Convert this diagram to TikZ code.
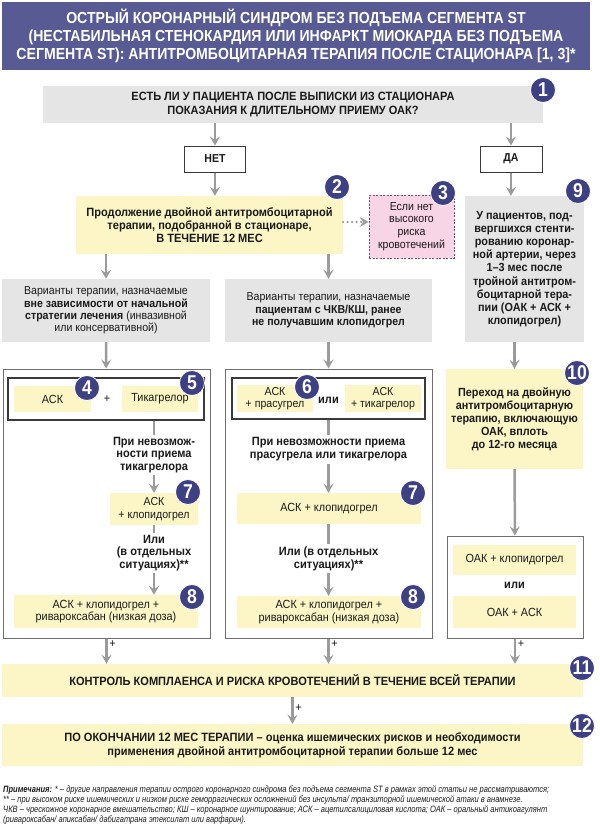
\documentclass[tikz,border=0pt]{standalone}
\usepackage{fontspec}
\setmainfont{Liberation Sans}[FakeStretch=0.92]
\newfontfamily\headfont{Liberation Sans}[FakeStretch=0.88]
\newfontfamily\notefont{Liberation Sans}[FakeStretch=0.82]
\usetikzlibrary{arrows.meta,positioning}
\definecolor{ink}{HTML}{1A1A1A}
\definecolor{band}{HTML}{585A93}
\definecolor{badge}{HTML}{3E4084}
\definecolor{pale}{HTML}{E5E5E5}
\definecolor{straw}{HTML}{FCF5C6}
\definecolor{rose}{HTML}{F7D4E6}
\definecolor{plum}{HTML}{7B4A6E}
\definecolor{arr}{HTML}{9B9B9B}
\definecolor{frame}{HTML}{6E6E6E}
\definecolor{edge}{HTML}{3A3A3A}

\begin{document}
\begin{tikzpicture}[x=1pt,y=-1pt,text=ink,font=\fontsize{11.8}{13}\selectfont,
      n/.style={fill=pale,align=center,inner sep=0pt},
      yl/.style={fill=straw,align=center,inner sep=0pt},
      bx/.style={fill=white,draw=frame,line width=1pt,inner sep=0pt},
      pair/.style={fill=white,draw=edge,line width=1.2pt,inner sep=0pt},
      tag/.style={fill=white,draw=edge,line width=1pt,inner sep=0pt,
                  font=\fontsize{11.5}{12}\selectfont\bfseries},
      hint/.style={align=center,inner sep=2pt,font=\fontsize{12}{12.5}\selectfont\bfseries},
      num/.style={circle,fill=badge,draw=white,line width=0.8pt,minimum size=25pt,
                  inner sep=0pt,text=white,font=\headfont\bfseries\fontsize{20}{20}\selectfont},
      flow/.style={draw=arr,line width=2.5pt,-{Stealth[length=9pt,width=10pt,inset=3.5pt]}},
      seg/.style={draw=arr,line width=2.5pt}]
    \useasboundingbox (0,0) rectangle (600,836);
    \node[fill=band,minimum width=588pt,minimum height=68pt,inner sep=0pt,align=center,
          text=white,font=\headfont\bfseries\fontsize{16}{18}\selectfont] (head) at (296,36)
      {ОСТРЫЙ КОРОНАРНЫЙ СИНДРОМ БЕЗ ПОДЪЕМА СЕГМЕНТА ST\\
       (НЕСТАБИЛЬНАЯ СТЕНОКАРДИЯ ИЛИ ИНФАРКТ МИОКАРДА БЕЗ ПОДЪЕМА\\
       СЕГМЕНТА ST): АНТИТРОМБОЦИТАРНАЯ ТЕРАПИЯ ПОСЛЕ СТАЦИОНАРА [1, 3]*};
    \node[n,minimum width=500pt,minimum height=37pt,font=\fontsize{12}{14}\selectfont\bfseries]
      (ask) at (293,104.5) {ЕСТЬ ЛИ У ПАЦИЕНТА ПОСЛЕ ВЫПИСКИ ИЗ СТАЦИОНАРА\\
       ПОКАЗАНИЯ К ДЛИТЕЛЬНОМУ ПРИЕМУ ОАК?};
    \node[tag,minimum width=61pt,minimum height=26pt] (no) at (215,159) {НЕТ};
    \node[tag,minimum width=62pt,minimum height=26pt] (yes) at (511,159) {ДА};
    \node[yl,minimum width=267pt,minimum height=58pt,font=\fontsize{12}{12.8}\selectfont\bfseries]
      (dapt) at (209.5,225) {Продолжение двойной антитромбоцитарной\\
       терапии, подобранной в стационаре,\\В ТЕЧЕНИЕ 12 МЕС};
    \node[fill=rose,draw=plum,line width=0.8pt,dash pattern=on 2pt off 1.5pt,align=center,
          inner sep=0pt,minimum width=85pt,minimum height=63pt,font=\fontsize{11.5}{12.8}\selectfont]
      (bleed) at (411.5,226.5) {Если нет\\высокого\\риска\\кровотечений};
    \node[n,minimum width=119pt,minimum height=146pt,font=\fontsize{11.8}{13.2}\selectfont\bfseries]
      (stent) at (524.5,269) {У пациентов, под-\\вергшихся стенти-\\рованию коронар-\\
       ной артерии, через\\1–3 мес после\\тройной антитром-\\боцитарной тера-\\
       пии (ОАК + АСК +\\клопидогрел)};
    \node[n,minimum width=208pt,minimum height=63pt,font=\fontsize{11.5}{12.4}\selectfont]
      (varA) at (106,310.5) {Варианты терапии, назначаемые\\
       \textbf{вне зависимости от начальной}\\\textbf{стратегии лечения} (инвазивной\\
       или консервативной)};
    \node[n,minimum width=207pt,minimum height=63pt,font=\fontsize{11.5}{12.4}\selectfont]
      (varB) at (328.5,310.5) {Варианты терапии, назначаемые\\
       \textbf{пациентам с ЧКВ/КШ, ранее}\\\textbf{не получавшим клопидогрел}};
    \node[bx,minimum width=207pt,minimum height=269pt] (outA) at (106.5,503.5) {};
    \node[bx,minimum width=207pt,minimum height=269pt] (outB) at (328.5,503.5) {};
    \node[yl,minimum width=137pt,minimum height=100pt,font=\fontsize{11.8}{13}\selectfont\bfseries]
      (shift) at (514.5,419) {Переход на двойную\\антитромбоцитарную\\терапию, включающую\\
       ОАК, вплоть\\до 12-го месяца};
    \node[bx,minimum width=136pt,minimum height=102pt] (outC) at (515,587) {};
    % left column
    \node[pair,minimum width=196pt,minimum height=42pt] (pairA) at (106,399) {};
    \node[yl,minimum width=77pt,minimum height=26pt] (askA) at (52.5,399) {АСК};
    \node (plusA) at (107,399) {+};
    \node[yl,minimum width=76pt,minimum height=26pt] (tikA) at (160,399) {Тикагрелор};
    \node[hint] (ifA) at (154,455) {При невозмож-\\ности приема\\тикагрелора};
    \node[yl,minimum width=88pt,minimum height=32pt,font=\fontsize{11.5}{12.5}\selectfont]
      (cloA) at (154,509) {АСК\\+ клопидогрел};
    \node[hint] (orA) at (154,553) {Или\\(в отдельных\\ситуациях)**};
    \node[yl,minimum width=184pt,minimum height=33pt,font=\fontsize{11.8}{12.8}\selectfont]
      (rivA) at (106,611.5) {АСК + клопидогрел +\\ривароксабан (низкая доза)};
    % middle column
    \node[pair,minimum width=193pt,minimum height=41pt] (pairB) at (328.5,398.5) {};
    \node[yl,minimum width=76pt,minimum height=27pt,font=\fontsize{11.5}{12.5}\selectfont]
      (prasB) at (275,398.5) {АСК\\+ прасугрел};
    \node[font=\fontsize{12}{12}\selectfont\bfseries] (orB0) at (328.5,400) {или};
    \node[yl,minimum width=76pt,minimum height=27pt,font=\fontsize{11.5}{12.5}\selectfont]
      (tikB) at (383,398.5) {АСК\\+ тикагрелор};
    \node[hint,font=\fontsize{12}{13}\selectfont\bfseries] (ifB) at (328.5,449.5)
      {При невозможности приема\\прасугрела или тикагрелора};
    \node[yl,minimum width=184pt,minimum height=31pt] (cloB) at (329,508.5) {АСК + клопидогрел};
    \node[hint,font=\fontsize{12}{13}\selectfont\bfseries] (orB) at (328.5,558.5)
      {Или (в отдельных\\ситуациях)**};
    \node[yl,minimum width=184pt,minimum height=32pt,font=\fontsize{11.8}{12.8}\selectfont]
      (rivB) at (329,612) {АСК + клопидогрел +\\ривароксабан (низкая доза)};
    % right column
    \node[yl,minimum width=123pt,minimum height=30pt] (oakK) at (514.5,560) {ОАК + клопидогрел};
    \node[font=\fontsize{12}{12}\selectfont\bfseries] (orC) at (514.5,585.5) {или};
    \node[yl,minimum width=123pt,minimum height=32pt] (oakA) at (514.5,612) {ОАК + АСК};
    % bottom
    \node[yl,minimum width=581pt,minimum height=33pt,font=\fontsize{12}{13}\selectfont\bfseries]
      (watch) at (292.5,680.5) {КОНТРОЛЬ КОМПЛАЕНСА И РИСКА КРОВОТЕЧЕНИЙ В ТЕЧЕНИЕ ВСЕЙ ТЕРАПИИ};
    \node[yl,minimum width=581pt,minimum height=42pt,font=\fontsize{12}{14}\selectfont\bfseries]
      (after) at (292.5,745) {ПО ОКОНЧАНИИ 12 МЕС ТЕРАПИИ – оценка ишемических рисков и необходимости\\
       применения двойной антитромбоцитарной терапии больше 12 мес};
    \node[anchor=north west,inner sep=0pt,align=left,
          font=\notefont\itshape\fontsize{9.2}{10}\selectfont] (notes) at (3,785)
      {\textbf{Примечания:} * – другие направления терапии острого коронарного синдрома без подъема сегмента ST в рамках этой статьи не рассматриваются;\\
       ** – при высоком риске ишемических и низком риске геморрагических осложнений без инсульта/ транзиторной ишемической атаки в анамнезе.\\
       ЧКВ – чрескожное коронарное вмешательство; КШ – коронарное шунтирование; АСК – ацетилсалициловая кислота; ОАК – оральный антикоагулянт\\
       (ривароксабан/ апиксабан/ дабигатрана этексилат или варфарин).};
    % connectors
    \draw[flow] (ask.south -| no) -- (no);
    \draw[flow] (ask.south -| yes) -- (yes);
    \draw[flow] (no) -- (no |- dapt.north);
    \draw[flow] (yes) -- (yes |- stent.north);
    \draw[draw=arr,line width=2.5pt,line cap=round,dash pattern=on 0pt off 4.5pt,
          -{Stealth[length=9pt,width=10pt,inset=3.5pt]}] (dapt.east |- 0,222) -- (bleed.west |- 0,222);
    \draw[flow] (dapt.south -| varA) -- (varA);
    \draw[flow] (dapt.south -| varB) -- (varB);
    \draw[flow] (varA) -- (outA);
    \draw[flow] (varB) -- (outB);
    \draw[flow] (stent.south -| shift) -- (shift);
    \draw[flow] (shift) -- (outC);
    \draw[seg] (pairA.south -| ifA) -- (ifA);
    \draw[flow] (ifA) -- (ifA |- cloA.north);
    \draw[seg] (cloA) -- (orA);
    \draw[flow] (orA) -- (orA |- rivA.north);
    \draw[seg] (pairB.south -| ifB) -- (ifB);
    \draw[flow] (ifB) -- (ifB |- cloB.north);
    \draw[seg] (cloB.south -| orB) -- (orB);
    \draw[flow] (orB) -- (orB |- rivB.north);
    \draw[flow] (outA) -- (outA |- watch.north) node[pos=0.22,right,inner sep=1.5pt] {+};
    \draw[flow] (outB) -- (outB |- watch.north) node[pos=0.22,right,inner sep=1.5pt] {+};
    \draw[flow] (outC) -- (outC |- watch.north) node[pos=0.22,right,inner sep=1.5pt] {+};
    \draw[flow] (watch) -- (after) node[pos=0.4,right,inner sep=1.5pt] {+};
    % badges
    \node[num] (k1) at (543,90) {1};
    \node[num] (k2) at (337,187) {2};
    \node[num] (k3) at (443,193) {3};
    \node[num] (k4) at (87,388) {4};
    \node[num] (k5) at (192,383) {5};
    \node[num] (k6) at (307,387) {6};
    \node[num] (k7a) at (188,492) {7};
    \node[num] (k7b) at (413,493) {7};
    \node[num] (k8a) at (192,597) {8};
    \node[num] (k8b) at (413,597) {8};
    \node[num] (k9) at (578,191) {9};
    \node[num] (k10) at (577,373) {10};
    \node[num] (k11) at (582,668) {11};
    \node[num] (k12) at (582,726) {12};
  \end{tikzpicture}
\end{document}
